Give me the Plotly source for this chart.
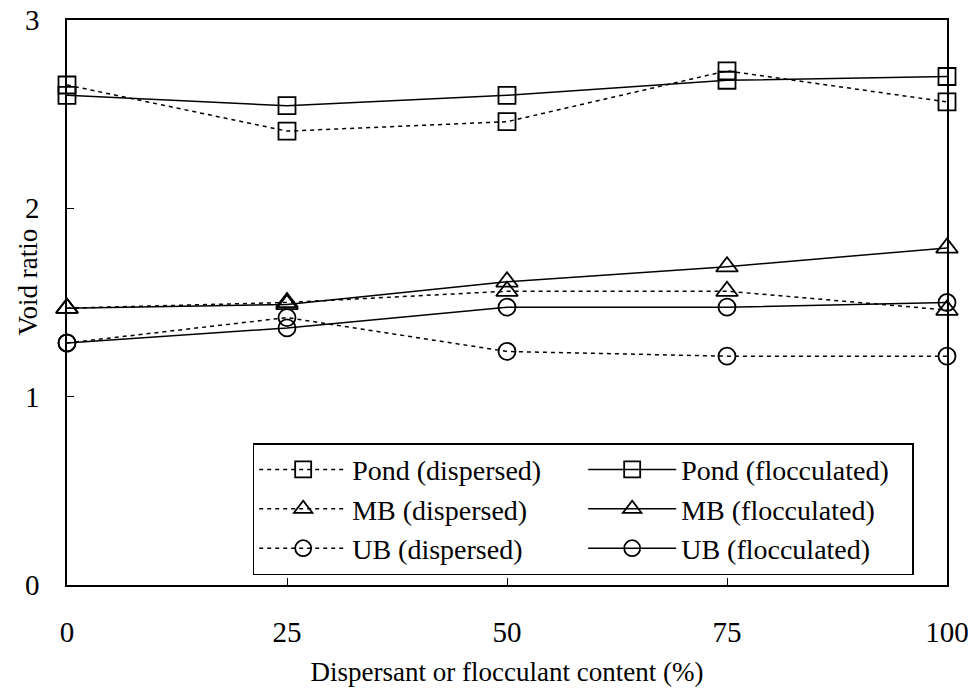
import plotly.graph_objects as go

content = [0, 25, 50, 75, 100]
pond_disp = [2.655, 2.41, 2.46, 2.73, 2.565]
pond_floc = [2.60, 2.545, 2.60, 2.68, 2.70]
mb_disp = [1.47, 1.50, 1.56, 1.56, 1.46]
mb_floc = [1.47, 1.49, 1.61, 1.69, 1.79]
ub_disp = [1.285, 1.42, 1.24, 1.215, 1.215]
ub_floc = [1.285, 1.365, 1.475, 1.475, 1.50]

series = [
    ("Pond (dispersed)", pond_disp, "square-open", "4px,4px", 17),
    ("Pond (flocculated)", pond_floc, "square-open", "solid", 17),
    ("MB (dispersed)", mb_disp, "triangle-up-open", "4px,4px", 19),
    ("MB (flocculated)", mb_floc, "triangle-up-open", "solid", 19),
    ("UB (dispersed)", ub_disp, "circle-open", "4px,4px", 17),
    ("UB (flocculated)", ub_floc, "circle-open", "solid", 17),
]

FONT = "Liberation Serif"

fig = go.Figure()
for name, vals, sym, dash, size in series:
    fig.add_trace(go.Scatter(
        x=content, y=vals, name=name, mode="lines+markers",
        line=dict(color="black", width=1.5, dash=dash),
        marker=dict(symbol=sym, size=size, color="black", line=dict(width=1.8, color="black")),
        cliponaxis=False,
    ))

fig.update_layout(
    width=974, height=695,
    margin=dict(l=67, r=27, t=20, b=110),
    paper_bgcolor="white", plot_bgcolor="white",
    font=dict(family=FONT, size=28, color="black"),
    showlegend=True,
    legend=dict(
        orientation="h", x=0.211, y=0.251, xanchor="left", yanchor="top",
        entrywidth=226, entrywidthmode="pixels", itemwidth=88,
        bordercolor="black", borderwidth=1.5, bgcolor="white",
        font=dict(family=FONT, size=28, color="black"),
        tracegroupgap=0, itemsizing="trace",
    ),
    xaxis=dict(
        range=[0, 100], tickvals=[0, 25, 50, 75, 100],
        ticks="inside", ticklen=7, tickcolor="black", tickwidth=1,
        showline=True, linecolor="black", linewidth=1.5, mirror=True,
        showgrid=False, zeroline=False, automargin=False,
        tickfont=dict(family=FONT, size=29, color="black"),
        title=dict(text="Dispersant or flocculant content (%)", standoff=16,
                   font=dict(family=FONT, size=27, color="black")),
        ticklabelstandoff=20,
    ),
    yaxis=dict(
        range=[0, 3], tickvals=[0, 1, 2, 3],
        ticks="inside", ticklen=7, tickcolor="black", tickwidth=1,
        showline=True, linecolor="black", linewidth=1.5, mirror=True,
        showgrid=False, zeroline=False, automargin=False,
        tickfont=dict(family=FONT, size=29, color="black"),
        ticklabelstandoff=20,
    ),
    annotations=[dict(
        text="Void ratio", textangle=-90, showarrow=False,
        xref="paper", yref="paper", x=-0.044, y=0.536,
        xanchor="center", yanchor="middle",
        font=dict(family=FONT, size=27, color="black"),
    )],
)

fig.write_html("out.html")
